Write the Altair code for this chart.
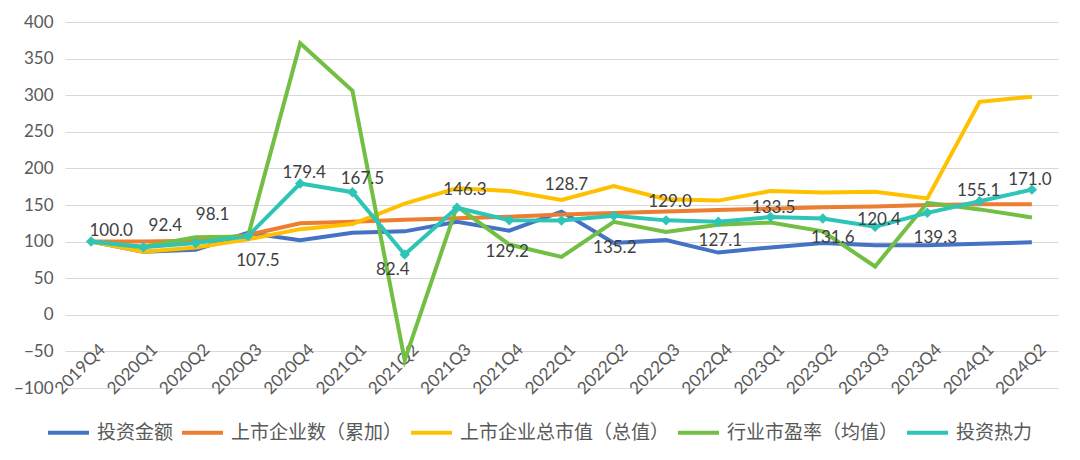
import altair as alt
import pandas as pd

quarters = ["2019Q4", "2020Q1", "2020Q2", "2020Q3", "2020Q4", "2021Q1", "2021Q2",
            "2021Q3", "2021Q4", "2022Q1", "2022Q2", "2022Q3", "2022Q4", "2023Q1",
            "2023Q2", "2023Q3", "2023Q4", "2024Q1", "2024Q2"]

series_names = ["投资金额", "上市企业数（累加）", "上市企业总市值（总值）", "行业市盈率（均值）", "投资热力"]

invest_amount = [100, 86, 89, 112, 102, 112, 114, 127, 115, 141, 98, 102, 85, 92, 98, 95, 95, 97, 99]
listed_count = [100, 100, 101, 109, 125, 127, 130, 132, 134, 137, 139, 141, 143, 145, 147, 148, 150, 151, 151]
market_value = [100, 86, 92, 103, 117, 124, 152, 173, 169, 157, 176, 158, 156, 169, 167, 168, 159, 291, 298]
pe_ratio = [100, 93, 106, 107, 371, 306, -62, 148, 96, 79, 127, 113, 123, 126, 114, 66, 153, 144, 133]
invest_heat = [100.0, 92.4, 98.1, 107.5, 179.4, 167.5, 82.4, 146.3, 129.2, 128.7, 135.2,
               129.0, 127.1, 133.5, 131.6, 120.4, 139.3, 155.1, 171.0]

# label placement offsets (pixels) for the 投资热力 data labels
label_dx = [20, 22, 17, 10, 4, 10, -12, 8, -2, 5, 1, 4, 2, 3, 10, 4, 8, -1, -2]
label_dy = [-11, -21, -28, 25, -10, -13, 16, -18, 32, -36, 32, -18, 19, -9, 20, -7, 25, -10, -10]

colors = ["#4472C4", "#ED7D31", "#FFC000", "#72BF44", "#2EC4B6"]

all_values = [invest_amount, listed_count, market_value, pe_ratio, invest_heat]
rows = []
for name, vals in zip(series_names, all_values):
    for q, v in zip(quarters, vals):
        rows.append({"quarter": q, "series": name, "value": v})
df = pd.DataFrame(rows)

labels_df = pd.DataFrame({"quarter": quarters, "value": invest_heat,
                          "dx": label_dx, "dy": label_dy})

W, H = 993, 366
Y_MIN, Y_MAX = -100, 400

x_enc = alt.X("quarter:N", sort=quarters,
              scale=alt.Scale(type="point", padding=0.5),
              axis=alt.Axis(labelAngle=-45, labelAlign="right", labelBaseline="middle",
                            offset=-H * (0 - Y_MIN) / (Y_MAX - Y_MIN),
                            domain=False, ticks=False, grid=False,
                            labelFont="Lato", labelFontSize=17, labelColor="#595959",
                            labelPadding=32, labelOffset=11, labelOverlap=False, title=None))
y_enc = alt.Y("value:Q",
              scale=alt.Scale(domain=[Y_MIN, Y_MAX], nice=False, zero=False),
              axis=alt.Axis(values=list(range(Y_MIN, Y_MAX + 1, 50)), domain=False, ticks=False,
                            labelFont="Lato", labelFontSize=17, labelColor="#595959",
                            labelOverlap=False,
                            labelPadding=12, gridColor="#d9d9d9", gridWidth=1, title=None))
color_enc = alt.Color("series:N",
                      scale=alt.Scale(domain=series_names, range=colors),
                      legend=alt.Legend(orient="none", legendX=-19, legendY=388,
                                        direction="horizontal", columns=5,
                                        symbolType="stroke", symbolSize=1680,
                                        symbolStrokeWidth=4, labelLimit=0,
                                        labelFont="Noto Sans CJK SC", labelFontSize=19,
                                        labelColor="#595959", labelOffset=6,
                                        columnPadding=0, title=None))

layers = []
for name in series_names:
    base = alt.Chart(df).transform_filter(alt.datum.series == name)
    if name == "投资热力":
        mark = base.mark_line(strokeWidth=4, point=alt.OverlayMarkDef(shape="diamond", size=110, filled=True, opacity=1))
    else:
        mark = base.mark_line(strokeWidth=4)
    layers.append(mark.encode(x=x_enc, y=y_enc, color=color_enc))

text_layer = alt.Chart(labels_df).mark_text(
    font="Lato", fontSize=17, color="#404040", align="center", baseline="middle",
    dx=alt.expr("datum.dx"), dy=alt.expr("datum.dy")
).encode(
    x=x_enc,
    y=y_enc,
    text=alt.Text("value:Q", format=".1f"),
)
layers.append(text_layer)

chart = alt.layer(*layers).properties(
    width=W, height=H,
    autosize=alt.AutoSizeParams(type="none"),
    padding={"left": 65, "top": 22, "right": 22, "bottom": 72},
    background="white",
).configure_view(stroke=None)

chart.save("out.html", embed_options={"renderer": "svg", "actions": False})
